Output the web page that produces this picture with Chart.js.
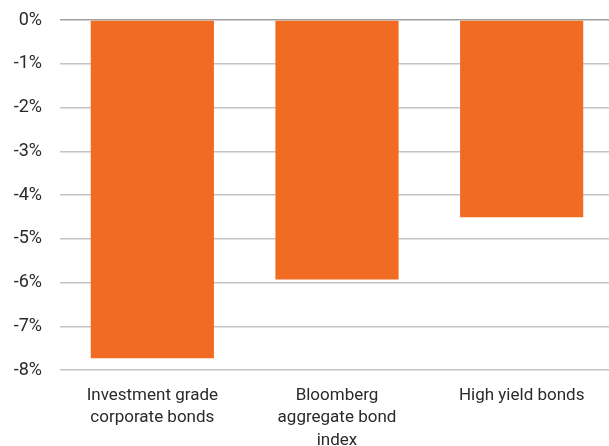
<!DOCTYPE html>
<html>
<head>
<meta charset="utf-8">
<script src="https://cdn.jsdelivr.net/npm/chart.js@4"></script>
<style>
  html, body { margin: 0; padding: 0; background: #fff; }
  #wrap { width: 609px; height: 446px; overflow: hidden; }
</style>
</head>
<body>
<div id="wrap"><canvas id="chartCanvas" width="614" height="446"></canvas></div>
<script>
const categories = [
  ['Investment grade', 'corporate bonds'],
  ['Bloomberg', 'aggregate bond', 'index'],
  'High yield bonds'
];
const returns = [-7.73, -5.93, -4.51];
const yMin = -8;
const yMax = 0;

const ctx = document.getElementById('chartCanvas').getContext('2d');
const chart = new Chart(ctx, {
  type: 'bar',
  data: {
    labels: categories,
    datasets: [{
      label: 'Return',
      data: returns,
      backgroundColor: '#F26B22',
      categoryPercentage: 1,
      barPercentage: 0.667
    }]
  },
  options: {
    responsive: false,
    animation: false,
    layout: { padding: { top: 20, right: 0, left: 0, bottom: 0 } },
    plugins: {
      legend: { display: false },
      tooltip: { enabled: false }
    },
    scales: {
      x: {
        grid: { display: false, drawTicks: false },
        border: { display: false },
        ticks: {
          color: '#2a2a2a',
          font: { family: 'Roboto', size: 17, lineHeight: 1.3 },
          padding: 15,
          maxRotation: 0,
          autoSkip: false
        },
        afterFit: function (axis) {
          axis.height = 76;
          axis.paddingLeft = 0;
          axis.paddingRight = 0;
        }
      },
      y: {
        min: yMin,
        max: yMax,
        grid: {
          color: ctx => ctx.tick && ctx.tick.value === 0 ? '#A0A0A0' : '#C4C4C4',
          lineWidth: 1.5,
          drawTicks: false
        },
        border: { display: false },
        ticks: {
          stepSize: 1,
          color: '#2a2a2a',
          font: { family: 'Roboto', size: 18 },
          padding: 18,
          callback: v => v + '%'
        },
        afterFit: function (axis) {
          axis.width = 60;
          axis.paddingTop = 0;
          axis.paddingBottom = 0;
        }
      }
    }
  }
});
</script>
</body>
</html>
